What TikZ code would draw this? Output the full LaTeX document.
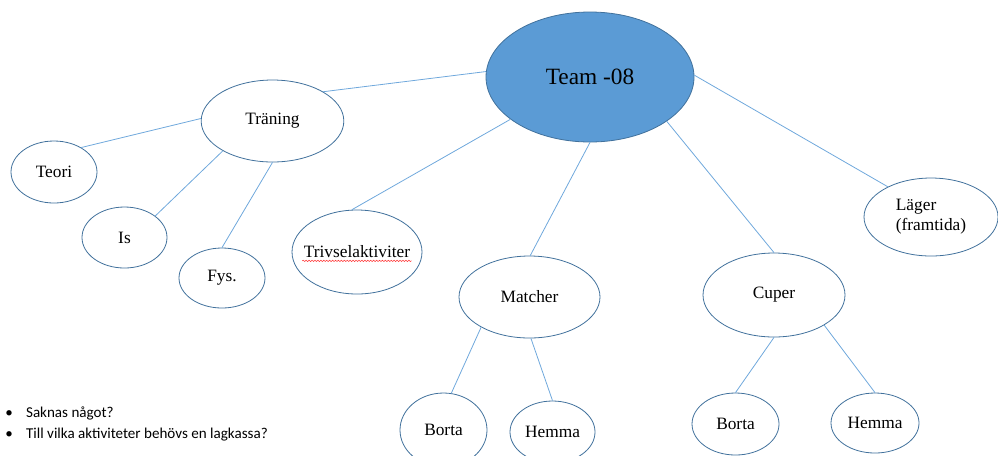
\documentclass[tikz,border=0pt]{standalone}
\usepackage{fontspec}
\setmainfont{Liberation Serif}
\newfontfamily\notefont{Carlito}
\usetikzlibrary{shapes.geometric, decorations.pathmorphing}
\definecolor{teamblue}{HTML}{5B9BD5}
\definecolor{rimblue}{HTML}{41719C}
\definecolor{linkblue}{HTML}{6FA8DC}
\tikzstyle{bubble}=[ellipse, draw=rimblue, line width=0.6pt, fill=white, inner sep=0pt, font=\fontsize{13}{15}\selectfont]
\tikzstyle{link}=[draw=linkblue, line width=0.6pt]

\begin{document}
\begin{tikzpicture}[x=0.75pt, y=-0.75pt]
  \useasboundingbox (0,0) rectangle (998,455);
  % top
  \node[bubble, fill=teamblue, minimum width=156pt, minimum height=97.5pt, font=\fontsize{17.5}{20}\selectfont] (team) at (590,77) {Team -08};
  % left branch
  \node[bubble, minimum width=107pt, minimum height=61.5pt] (traning) at (272.5,121) {Träning};
  \node[bubble, minimum width=64.5pt, minimum height=46.5pt] (teori) at (54,172) {Teori};
  \node[bubble, minimum width=63.75pt, minimum height=45.75pt] (is) at (124.5,237.5) {Is};
  \node[bubble, minimum width=64.5pt, minimum height=45pt] (fys) at (222,278) {Fys.};
  % middle
  \node[bubble, minimum width=97.5pt, minimum height=63pt, inner xsep=-9pt] (trivsel) at (357,252) {Trivselaktiviter};
  \node[bubble, minimum width=105.75pt, minimum height=61.5pt] (matcher) at (529.5,297) {Matcher};
  \node[bubble, minimum width=106.5pt, minimum height=63pt] (cuper) at (774,295) {Cuper};
  \node[bubble, minimum width=100.5pt, minimum height=58.5pt, align=left] (lager) at (931,217) {Läger\\(framtida)};
  % bottom
  \node[bubble, minimum width=65.25pt, minimum height=55.5pt] (bortaM) at (443.5,430) {Borta};
  \node[bubble, minimum width=63.75pt, minimum height=46.5pt] (hemmaM) at (552.5,432) {Hemma};
  \node[bubble, minimum width=65.25pt, minimum height=46.5pt] (bortaC) at (735.5,424) {Borta};
  \node[bubble, minimum width=66pt, minimum height=45pt] (hemmaC) at (875,423) {Hemma};

  \path[link] (team.177.8) -- (traning.30);
  \path[link] (team.208) -- (trivsel.97);
  \path[link] (team.270) -- (matcher.89);
  \path[link] (team.330) -- (cuper.90);
  \path[link] (team.1) -- (lager.145);
  \path[link] (traning.178) -- (teori.42);
  \path[link] (traning.211.5) -- (is.35);
  \path[link] (traning.270) -- (fys.90);
  \path[link] (matcher.212.6) -- (bortaM.78);
  \path[link] (matcher.272) -- (hemmaM.90);
  \path[link] (cuper.270) -- (bortaC.90);
  \path[link] (cuper.329) -- (hemmaC.90);

  \draw[red!80, line width=0.4pt, decorate, decoration={snake, amplitude=0.5pt, segment length=2.2pt}]
    ([xshift=-41pt, yshift=-2.2pt]trivsel.base) -- ([xshift=41pt, yshift=-2.2pt]trivsel.base);

  \node[anchor=west, align=left, inner sep=0pt, font=\notefont\fontsize{11.3}{15.5}\selectfont] (notes) at (5,424)
    {\textbullet\hspace{10pt}Saknas något?\\\textbullet\hspace{10pt}Till vilka aktiviteter behövs en lagkassa?};
\end{tikzpicture}
\end{document}
